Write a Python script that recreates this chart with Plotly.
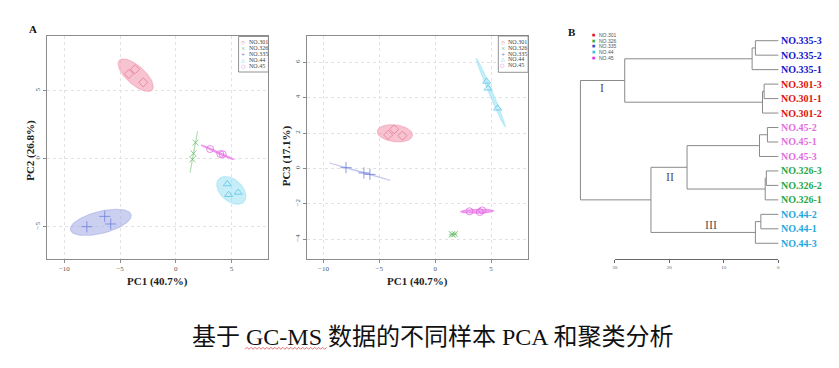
import numpy as np
import plotly.graph_objects as go

W, H = 839, 368

# ---------------- data ----------------
groups = ["NO.301", "NO.326", "NO.335", "NO.44", "NO.45"]
pc1 = [[-4.21, -3.67, -2.93],
       [1.76, 1.58, 1.49],
       [-7.98, -6.38, -5.84],
       [4.61, 4.73, 5.59],
       [3.07, 3.99, 4.20]]
pc2 = [[6.23, 6.57, 5.61],
       [1.18, 0.39, -0.05],
       [-5.00, -4.24, -4.80],
       [-1.86, -2.65, -2.48],
       [0.71, 0.34, 0.32]]
pc3 = [[1.89, 2.21, 1.85],
       [-3.72, -3.75, -3.73],
       [0.04, -0.26, -0.34],
       [4.92, 4.53, 3.40],
       [-2.43, -2.47, -2.38]]
pc1_title = "PC1 (40.7%)"
pc2_title = "PC2 (26.8%)"
pc3_title = "PC3 (17.1%)"
a1_xticks = [-10, -5, 0, 5]
a1_yticks = [-5, 0, 5]
a2_yticks = [-4, -2, 0, 2, 4, 6]

leaf_labels = ["NO.335-3", "NO.335-2", "NO.335-1", "NO.301-3", "NO.301-1", "NO.301-2",
               "NO.45-2", "NO.45-1", "NO.45-3", "NO.326-3", "NO.326-2", "NO.326-1",
               "NO.44-2", "NO.44-1", "NO.44-3"]
leaf_group = ["NO.335"] * 3 + ["NO.301"] * 3 + ["NO.45"] * 3 + ["NO.326"] * 3 + ["NO.44"] * 3
merge_left = [0, 15, 3, 17, 16, 6, 20, 9, 22, 21, 12, 25, 24, 19]
merge_right = [1, 2, 4, 5, 18, 7, 8, 10, 11, 23, 13, 14, 26, 27]
merge_height = [4.2, 4.8, 2.6, 2.9, 28.1, 2.0, 3.45, 2.2, 2.4, 16.7, 3.2, 4.2, 23.3, 36.2]
dendro_ticks = [30, 20, 10, 0]
cluster_names = ["I", "II", "III"]

caption = "基于 GC-MS 数据的不同样本 PCA 和聚类分析"

# ---------------- styles ----------------
SERIF = "Liberation Serif"
marker_sym = ["diamond-open", "x-thin-open", "cross-thin-open", "triangle-up-open", "circle-open"]
marker_size = [7, 6, 8, 7, 7]
marker_col = ["#E8799B", "#6FBF6F", "#6F7FDD", "#5EC4E6", "#E06EE0"]
fill_col = ["rgba(242,163,183,0.65)", "rgba(150,210,150,0.7)", "rgba(168,176,232,0.6)",
            "rgba(160,226,245,0.6)", "rgba(236,130,236,0.75)"]
legend_glyph = ["◇", "×", "+", "△", "○"]
leaf_col = {"NO.335": "#1515CC", "NO.301": "#E01010", "NO.45": "#E070E0",
            "NO.326": "#1FA84A", "NO.44": "#1EA8E0"}
b_legend_col = ["#E01030", "#30B050", "#3050D0", "#30C8E8", "#E030E0"]


def px(x):
    return x / W


def py(y):
    return 1 - y / H


def ellipse(xs, ys, k=2.4477, n=120):
    xs, ys = np.asarray(xs), np.asarray(ys)
    m = np.array([xs.mean(), ys.mean()])
    cov = np.cov(np.vstack([xs, ys]), ddof=1)
    vals, vecs = np.linalg.eigh(cov)
    vals = np.clip(vals, 0, None)
    t = np.linspace(0, 2 * np.pi, n)
    circ = np.vstack([np.cos(t), np.sin(t)])
    pts = vecs @ (np.sqrt(vals)[:, None] * k * circ) + m[:, None]
    return pts[0], pts[1]


fig = go.Figure()

# ---------------- PCA panels ----------------
for ax_i, ycomp in [("", pc2), ("2", pc3)]:
    for g in range(len(groups)):
        ex, ey = ellipse(pc1[g], ycomp[g])
        fig.add_trace(go.Scatter(x=ex, y=ey, mode="lines", fill="toself",
                                 fillcolor=fill_col[g],
                                 line=dict(color=fill_col[g], width=1.2),
                                 xaxis="x" + ax_i, yaxis="y" + ax_i,
                                 showlegend=False, hoverinfo="skip"))
    for g in range(len(groups)):
        fig.add_trace(go.Scatter(x=pc1[g], y=ycomp[g], mode="markers",
                                 marker=dict(symbol=marker_sym[g], size=marker_size[g],
                                             color=marker_col[g],
                                             line=dict(color=marker_col[g], width=0.8)),
                                 xaxis="x" + ax_i, yaxis="y" + ax_i,
                                 name=groups[g], showlegend=False))

axis_common = dict(showgrid=True, gridcolor="#e2e2e2", griddash="dot", gridwidth=1,
                   zeroline=False, showline=True, linecolor="#8c8c8c", linewidth=1,
                   mirror=True, ticks="outside", ticklen=3, tickcolor="#8c8c8c",
                   tickfont=dict(family=SERIF, size=7, color="#555"))

a_y0, a_y1 = py(259), py(36)
fig.update_layout(
    xaxis=dict(domain=[px(44), px(267)], range=[-11.58, 8.30], anchor="y",
               tickvals=a1_xticks, **axis_common),
    yaxis=dict(domain=[a_y0, a_y1], range=[-7.375, 9.02], anchor="x",
               tickvals=a1_yticks, tickangle=-90, **axis_common),
    xaxis2=dict(domain=[px(305.7), px(528)], range=[-11.48, 8.29], anchor="y2",
                tickvals=a1_xticks, **axis_common),
    yaxis2=dict(domain=[a_y0, a_y1], range=[-5.13, 7.49], anchor="x2",
                tickvals=a2_yticks, tickangle=-90, **axis_common),
)

# ---------------- dendrogram ----------------
n_leaf = len(leaf_labels)
node_x = [0.0] * n_leaf
node_y = [float(i) for i in range(n_leaf)]
lx, ly = [], []
for l, r, h in zip(merge_left, merge_right, merge_height):
    for c in (l, r):
        lx += [node_x[c], h, None]
        ly += [node_y[c], node_y[c], None]
    lx += [h, h, None]
    ly += [node_y[l], node_y[r], None]
    node_x.append(h)
    node_y.append((node_y[l] + node_y[r]) / 2)

fig.add_trace(go.Scatter(x=lx, y=ly, mode="lines", line=dict(color="#8a8a8a", width=1),
                         xaxis="x3", yaxis="y3", showlegend=False, hoverinfo="skip"))
fig.add_trace(go.Scatter(x=[dendro_ticks[0], dendro_ticks[-1]], y=[0, 0], mode="lines",
                         line=dict(width=0), xaxis="x4", yaxis="y4",
                         showlegend=False, hoverinfo="skip"))

# dendrogram: 5.5 px per unit, 0 at px 780
x3_left, x3_right = 575, 792
fig.update_layout(
    xaxis3=dict(domain=[px(x3_left), px(x3_right)],
                range=[(780 - x3_left) / 5.5, (780 - x3_right) / 5.5],
                visible=False, anchor="y3"),
    yaxis3=dict(domain=[py(255), py(30)],
                range=[(255 - 40.7) / 14.47, (30 - 40.7) / 14.47],
                visible=False, anchor="x3"),
    xaxis4=dict(domain=[px(615.3), px(780)], range=[30, 0], anchor="y4",
                tickvals=dendro_ticks, showline=True, linecolor="#666", linewidth=1,
                ticks="outside", ticklen=3, tickcolor="#666", showgrid=False,
                zeroline=False, tickfont=dict(family=SERIF, size=5, color="#666")),
    yaxis4=dict(domain=[py(259.3), py(255)], range=[0, 1], visible=False, anchor="x4"),
)

annotations = []
for i, lab in enumerate(leaf_labels):
    annotations.append(dict(x=0, y=i, xref="x3", yref="y3", text="<b>%s</b>" % lab,
                            xanchor="left", yanchor="middle", xshift=1, showarrow=False,
                            font=dict(family=SERIF, size=10, color=leaf_col[leaf_group[i]])))

for name, (cx, cy) in zip(cluster_names, [(603, 87.7), (671, 176.7), (712, 225.3)]):
    annotations.append(dict(x=px(cx), y=py(cy), xref="paper", yref="paper", text=name,
                            showarrow=False, xanchor="center", yanchor="middle",
                            font=dict(family=SERIF, size=12, color="#555")))

# ---------------- axis titles & panel letters ----------------
annotations += [
    dict(x=px(155.7), y=py(281.7), text="<b>%s</b>" % pc1_title),
    dict(x=px(417), y=py(281.7), text="<b>%s</b>" % pc1_title),
    dict(x=px(28), y=py(150), text="<b>%s</b>" % pc2_title, textangle=-90),
    dict(x=px(285), y=py(156), text="<b>%s</b>" % pc3_title, textangle=-90),
]
for a in annotations[-4:]:
    a.update(xref="paper", yref="paper", showarrow=False, xanchor="center", yanchor="middle",
             font=dict(family=SERIF, size=11, color="#222"))

for letter, (lx_, ly_) in [("A", (30, 28.5)), ("B", (572, 31.5))]:
    annotations.append(dict(x=px(lx_), y=py(ly_), xref="paper", yref="paper",
                            text="<b>%s</b>" % letter, showarrow=False,
                            xanchor="center", yanchor="middle",
                            font=dict(family=SERIF, size=11, color="#111")))

# ---------------- legends ----------------
shapes = []
for (bx0, bx1, by0, by1, ey0, mx) in [(237, 267, 36.5, 72, 42.3, 241.7),
                                      (498.3, 528.3, 36, 72.3, 42.0, 502.7)]:
    shapes.append(dict(type="rect", xref="paper", yref="paper",
                       x0=px(bx0), x1=px(bx1), y0=py(by1), y1=py(by0),
                       line=dict(color="#777", width=0.8), fillcolor="white", layer="above"))
    for g, name in enumerate(groups):
        yy = ey0 + 5.8 * g
        annotations.append(dict(x=px(mx), y=py(yy), xref="paper", yref="paper",
                                text=legend_glyph[g], showarrow=False, xanchor="center",
                                yanchor="middle",
                                font=dict(family="DejaVu Sans", size=5, color=marker_col[g])))
        annotations.append(dict(x=px(mx + 3.3), y=py(yy), xref="paper", yref="paper",
                                text=name, showarrow=False, xanchor="left", yanchor="middle",
                                font=dict(family=SERIF, size=6, color="#444")))

for g, name in enumerate(groups):
    yy = 35 + 5.7 * g
    annotations.append(dict(x=px(594.3), y=py(yy), xref="paper", yref="paper",
                            text="■", showarrow=False, xanchor="center", yanchor="middle",
                            font=dict(family="DejaVu Sans", size=3.5, color=b_legend_col[g])))
    annotations.append(dict(x=px(598), y=py(yy), xref="paper", yref="paper",
                            text=name, showarrow=False, xanchor="left", yanchor="middle",
                            font=dict(family="Liberation Sans", size=5, color="#555")))

# ---------------- caption ----------------
annotations.append(dict(x=px(432), y=py(336.5), xref="paper", yref="paper", text=caption,
                        showarrow=False, xanchor="center", yanchor="middle",
                        font=dict(family="Liberation Serif, Noto Sans CJK SC", size=24,
                                  color="#111")))
# spell-check style wavy underline below "GC-MS"
wx = np.arange(243.5, 327, 2.0)
wy = np.where(np.arange(len(wx)) % 2 == 0, 349.3, 347.3)
path = "M " + " L ".join("%.5f,%.5f" % (px(a), py(b)) for a, b in zip(wx, wy))
shapes.append(dict(type="path", xref="paper", yref="paper", path=path,
                   line=dict(color="#E03030", width=0.7), layer="above"))

fig.update_layout(
    width=W, height=H, margin=dict(l=0, r=0, t=0, b=0, pad=0),
    paper_bgcolor="white", plot_bgcolor="white", showlegend=False,
    annotations=annotations, shapes=shapes,
)

fig.write_html("out.html",
               config={"displayModeBar": False},
               post_script="document.body.style.margin='0px';"
                           "document.body.style.padding='0px';"
                           "document.body.style.overflow='hidden';")
